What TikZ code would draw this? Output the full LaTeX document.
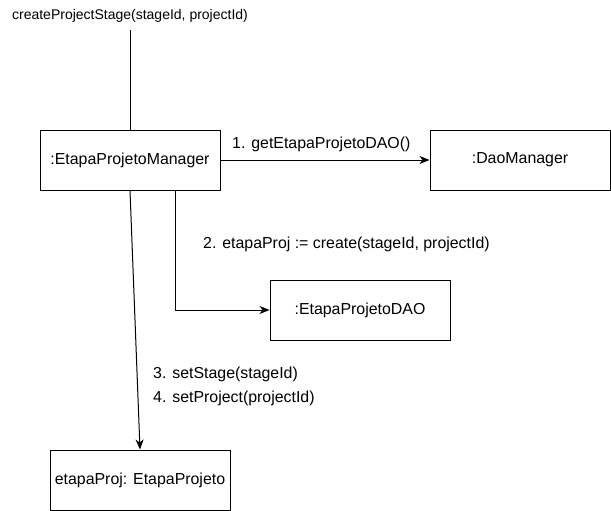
\documentclass[tikz,border=0pt]{standalone}
\usepackage{fontspec}
\setmainfont{Liberation Sans}
\usetikzlibrary{arrows.meta}
\begin{document}
\begin{tikzpicture}[x=1pt,y=-1pt,
  obj/.style={draw=black,line width=1pt,minimum width=180pt,minimum height=60pt,inner sep=0pt,font=\fontsize{15.9}{18}\selectfont},
  conn/.style={draw=black,line width=1pt},
  msg/.style={-{Stealth[length=10pt,width=8pt,inset=3pt]}},
  lbl/.style={inner sep=0pt,font=\fontsize{15.9}{18}\selectfont},
  toplbl/.style={inner sep=0pt,font=\fontsize{14}{16}\selectfont}]
\useasboundingbox (0,0) rectangle (611,511);
\node[obj] (mgr) at (130,160) {:EtapaProjetoManager};
\node[obj] (dao) at (520,160) {:DaoManager};
\node[obj] (edao) at (360,310) {:EtapaProjetoDAO};
\node[obj] (ep) at (140,480) {etapaProj: EtapaProjeto};
\node[toplbl] (call) at (130,16) {createProjectStage(stageId, projectId)};
\coordinate (top) at (130,30);
\draw[conn] (top) -- (mgr.north);
\draw[conn,msg] (mgr.east) -- (dao.west);
\node[lbl,anchor=west] (l1) at (232,144) {1. getEtapaProjetoDAO()};
\coordinate (m2) at (175,190);
\coordinate (c2) at (175,310);
\draw[conn,msg] (m2) -- (c2) -- (edao.west);
\node[lbl,anchor=west] (l2) at (203,244) {2. etapaProj := create(stageId, projectId)};
\draw[conn,msg] (mgr.south) -- (ep.north);
\node[lbl,anchor=west] (l3) at (153,374) {3. setStage(stageId)};
\node[lbl,anchor=west] (l4) at (153,398) {4. setProject(projectId)};
\end{tikzpicture}
\end{document}
